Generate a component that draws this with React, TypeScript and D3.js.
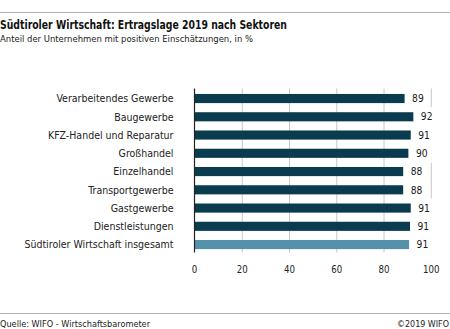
import React from "react";
import * as d3 from "d3";

const categories = [
  "Verarbeitendes Gewerbe",
  "Baugewerbe",
  "KFZ-Handel und Reparatur",
  "Großhandel",
  "Einzelhandel",
  "Transportgewerbe",
  "Gastgewerbe",
  "Dienstleistungen",
  "Südtiroler Wirtschaft insgesamt",
];
const values = [88.7, 92.4, 91.3, 90.3, 88.1, 88.1, 91.3, 91.0, 90.6];
const highlight = [false, false, false, false, false, false, false, false, true];
const ticks = [0, 20, 40, 60, 80, 100];

const W = 450;
const H = 329;
const FONT = "'DejaVu Sans', 'Liberation Sans', sans-serif";

export default function App() {
  const x = d3.scaleLinear().domain([0, 100]).range([195, 431.3]);
  const y = d3
    .scaleBand<string>()
    .domain(categories)
    .range([89.4, 253.7])
    .paddingInner(0.5)
    .paddingOuter(0.25);
  const bw = y.bandwidth();
  const step = y.step();
  const gridTop = 88.5;
  const gridBottom = 252.5;

  return (
    <svg
      width={W}
      height={H}
      style={{ position: "absolute", left: 0, top: 0, background: "#fff" }}
      fontFamily={FONT}
    >
      <rect width={W} height={H} fill="#fff" />
      <line x1={0} x2={W} y1={12.5} y2={12.5} stroke="#b3b3b3" strokeWidth={1} />
      <text x={0} y={28.5} fontSize={12.5} fontWeight="bold" fill="#111" textLength={287} lengthAdjust="spacingAndGlyphs" fontStretch="condensed">
        Südtiroler Wirtschaft: Ertragslage 2019 nach Sektoren
      </text>
      <text x={0} y={41.5} fontSize={8.6} fill="#222" textLength={253} lengthAdjust="spacingAndGlyphs" fontStretch="condensed">
        Anteil der Unternehmen mit positiven Einschätzungen, in %
      </text>

      {ticks.slice(1).map((t) => (
        <line key={"g" + t} x1={x(t)} x2={x(t)} y1={gridTop} y2={gridBottom} stroke="#c8c8c8" strokeWidth={1} />
      ))}

      {categories.map((c, i) => {
        const yy = y(c)!;
        return (
          <rect key={c} x={x(0)} y={yy} width={x(values[i]) - x(0)} height={bw} fill={highlight[i] ? "#5592aa" : "#0b3b4f"} />
        );
      })}

      {categories.map((c, i) => {
        const yy = y(c)!;
        const cy = yy + bw / 2;
        const lx = x(values[i]) + 7.5;
        const label = d3.format(".0f")(values[i]);
        return (
          <g key={"l" + c}>
            <rect x={lx - 2} y={cy - step / 2 - 0.5} width={label.length * 6 + 6} height={step + 1} fill="#fff" />
            <text x={lx} y={cy + 3.7} fontSize={10.2} fill="#1a1a1a" fontStretch="condensed">
              {label}
            </text>
            <text x={173.5} y={cy + 3.8} fontSize={10.5} fill="#222" textAnchor="end" fontStretch="condensed">
              {c}
            </text>
          </g>
        );
      })}

      <line x1={194.5} x2={194.5} y1={gridTop} y2={gridBottom} stroke="#222" strokeWidth={1.2} />

      {ticks.map((t) => (
        <text key={"t" + t} x={t === 0 ? 194.5 : x(t)} y={273} fontSize={9.6} fill="#222" textAnchor="middle" fontStretch="condensed">
          {t}
        </text>
      ))}

      <line x1={0} x2={W} y1={313.5} y2={313.5} stroke="#b3b3b3" strokeWidth={1} />
      <text x={0} y={326.5} fontSize={8.6} fill="#222" textLength={150} lengthAdjust="spacingAndGlyphs" fontStretch="condensed">
        Quelle: WIFO - Wirtschaftsbarometer
      </text>
      <text x={449} y={326.5} fontSize={8.6} fill="#222" textAnchor="end" textLength={52} lengthAdjust="spacingAndGlyphs" fontStretch="condensed">
        ©2019 WIFO
      </text>
    </svg>
  );
}
